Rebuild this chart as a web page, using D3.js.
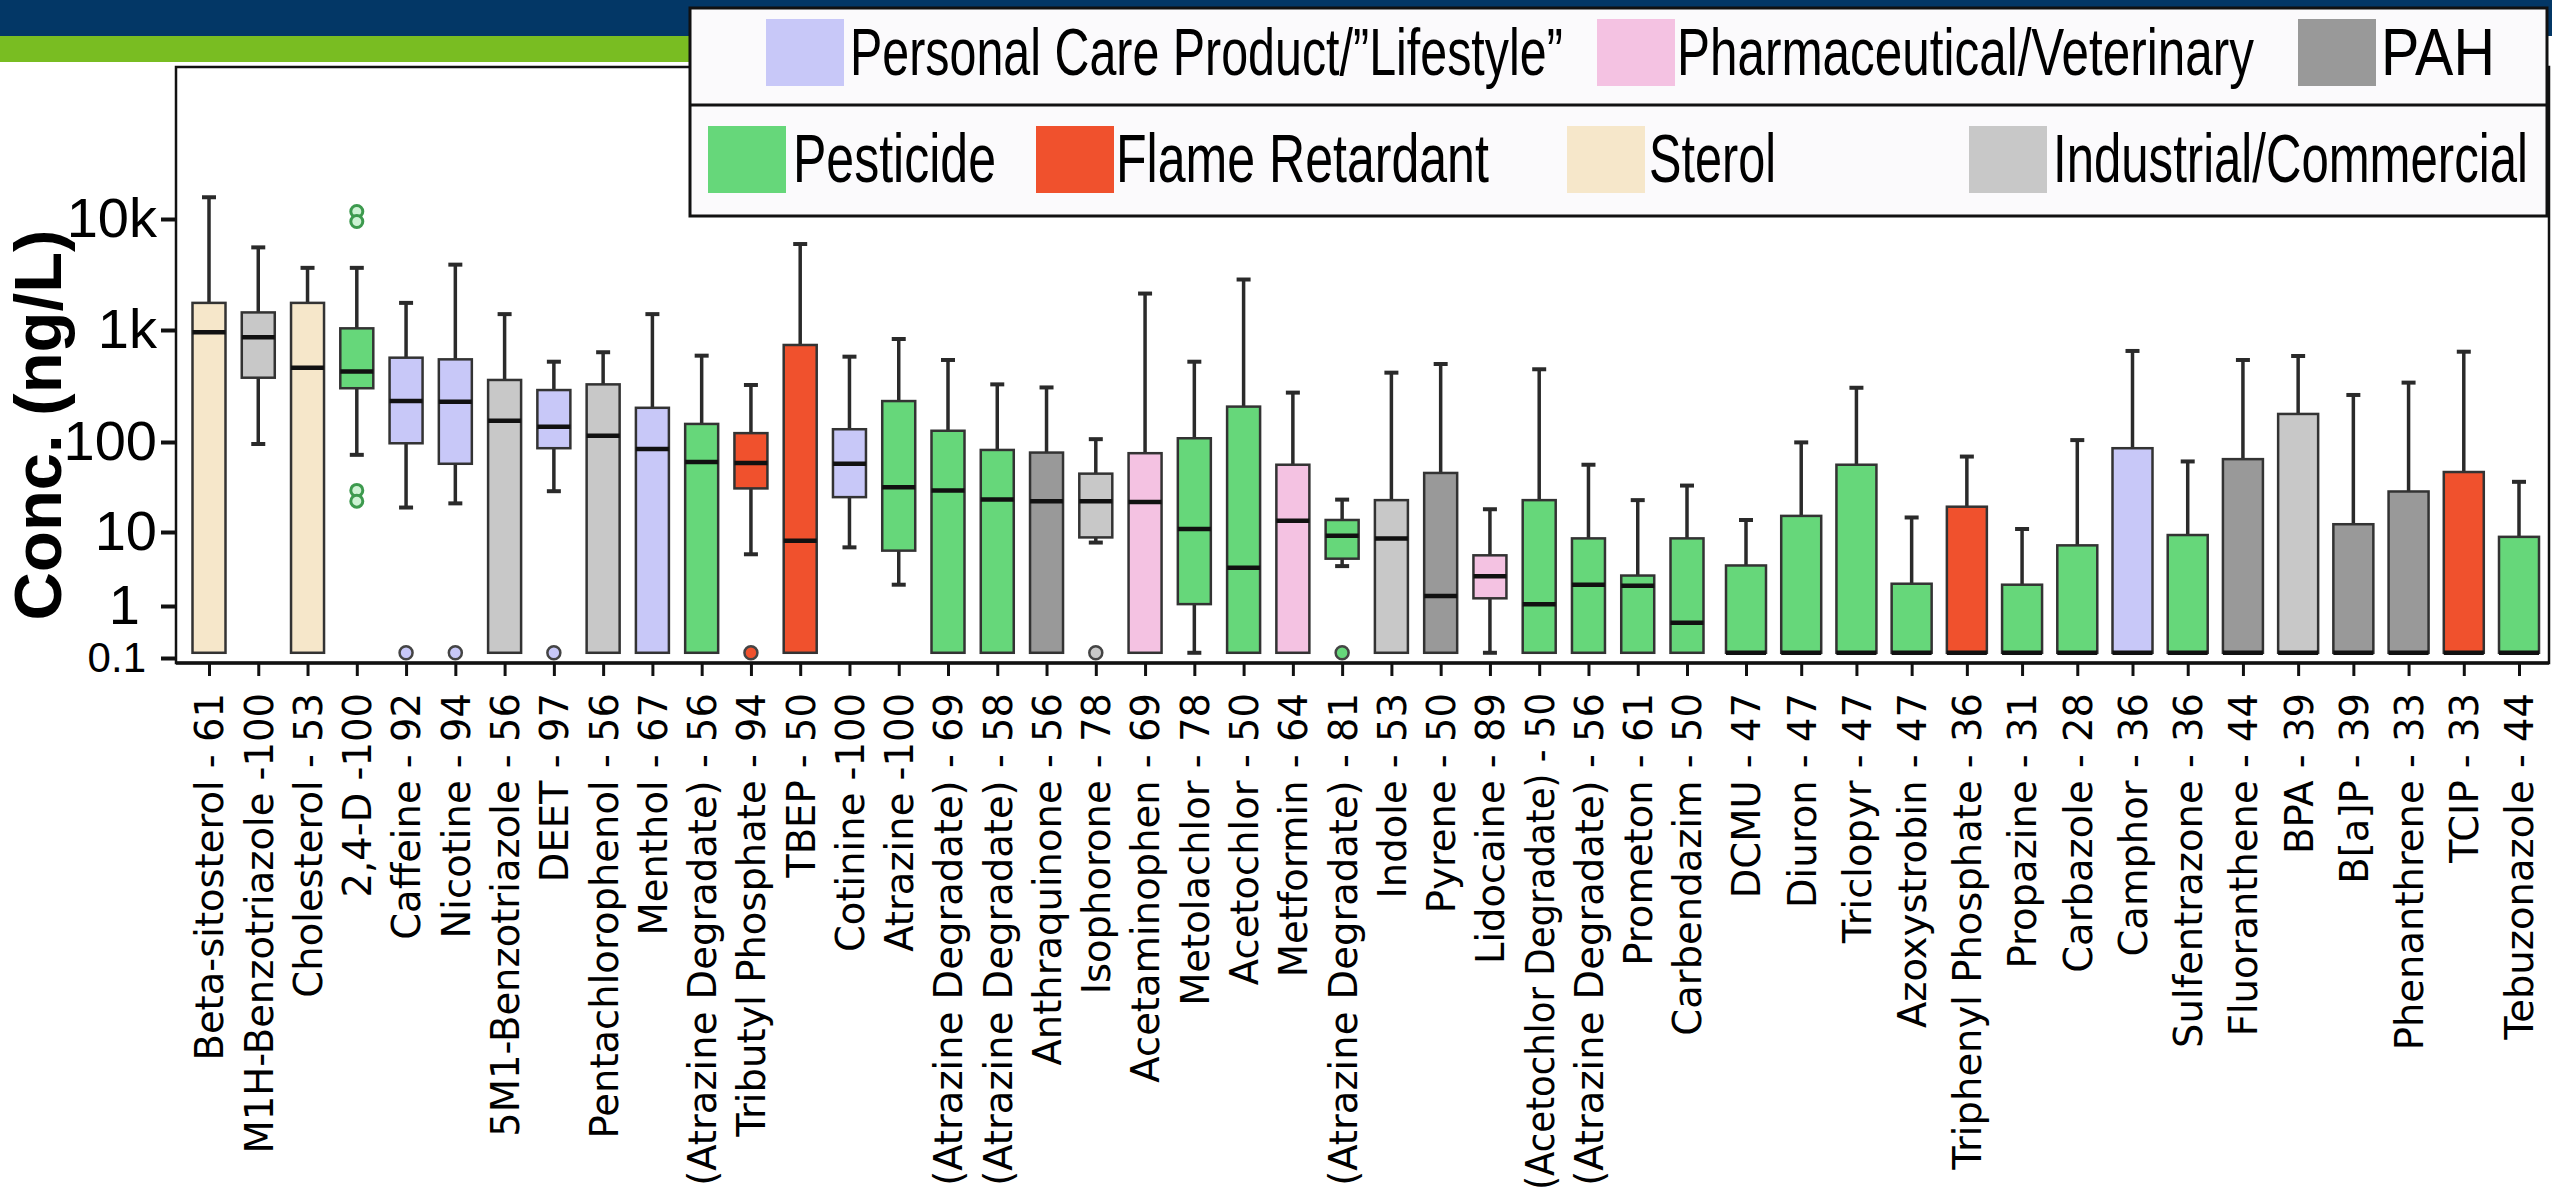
<!DOCTYPE html>
<html>
<head>
<meta charset="utf-8">
<script src="https://cdn.jsdelivr.net/npm/d3@7"></script>
<style>
  html, body { margin: 0; padding: 0; background: #fff; }
  svg { display: block; }
</style>
</head>
<body>
<svg id="chart" width="2552" height="1196"></svg>
<script>
// compounds in plot order, with % detection shown after the name
const compounds = ["Beta-sitosterol", "M1H-Benzotriazole", "Cholesterol", "2,4-D", "Caffeine", "Nicotine",
  "5M1-Benzotriazole", "DEET", "Pentachlorophenol", "Menthol", "(Atrazine Degradate)", "Tributyl Phosphate",
  "TBEP", "Cotinine", "Atrazine", "(Atrazine Degradate)", "(Atrazine Degradate)", "Anthraquinone",
  "Isophorone", "Acetaminophen", "Metolachlor", "Acetochlor", "Metformin", "(Atrazine Degradate)",
  "Indole", "Pyrene", "Lidocaine", "(Acetochlor Degradate)", "(Atrazine Degradate)", "Prometon",
  "Carbendazim", "DCMU", "Diuron", "Triclopyr", "Azoxystrobin", "Triphenyl Phosphate", "Propazine",
  "Carbazole", "Camphor", "Sulfentrazone", "Fluoranthene", "BPA", "B[a]P", "Phenanthrene", "TCIP",
  "Tebuzonazole"];
const detectPct = [61, 100, 53, 100, 92, 94, 56, 97, 56, 67, 56, 94, 50, 100, 100, 69, 58, 56, 78, 69,
  78, 50, 64, 81, 53, 50, 89, 50, 56, 61, 50, 47, 47, 47, 47, 36, 31, 28, 36, 36, 44, 39, 39, 33, 33, 44];

const groupNames = ["Personal Care Product/\u201dLifestyle\u201d", "Pharmaceutical/Veterinary", "PAH",
  "Pesticide", "Flame Retardant", "Sterol", "Industrial/Commercial"];
const groups = ["Sterol", "Industrial/Commercial", "Sterol", "Pesticide", "Personal Care Product/\u201dLifestyle\u201d",
  "Personal Care Product/\u201dLifestyle\u201d", "Industrial/Commercial", "Personal Care Product/\u201dLifestyle\u201d",
  "Industrial/Commercial", "Personal Care Product/\u201dLifestyle\u201d", "Pesticide", "Flame Retardant",
  "Flame Retardant", "Personal Care Product/\u201dLifestyle\u201d", "Pesticide", "Pesticide", "Pesticide", "PAH",
  "Industrial/Commercial", "Pharmaceutical/Veterinary", "Pesticide", "Pesticide", "Pharmaceutical/Veterinary",
  "Pesticide", "Industrial/Commercial", "PAH", "Pharmaceutical/Veterinary", "Pesticide", "Pesticide", "Pesticide",
  "Pesticide", "Pesticide", "Pesticide", "Pesticide", "Pesticide", "Flame Retardant", "Pesticide", "Pesticide",
  "Personal Care Product/\u201dLifestyle\u201d", "Pesticide", "PAH", "Industrial/Commercial", "PAH", "PAH",
  "Flame Retardant", "Pesticide"];

// box statistics in ng/L (0.126 = bottom of the plotted range / non-detect)
const whiskerHi = [15700, 5550, 3630, 3630, 1755, 3880, 1390, 521, 633, 1390, 590, 323, 5950, 578, 831, 540,
  327, 307, 106, 2130, 521, 2850, 276, 22.9, 416, 497, 17.9, 446, 55.9, 22.6, 32.8, 13.6, 99, 305, 14.5,
  68.9, 10.8, 104, 650, 60.8, 540, 586, 263, 339, 640, 36.1];
const q3 = [1755, 1440, 1755, 1035, 566, 547, 358, 291, 327, 202, 145, 120, 735, 130, 232, 126, 81.6, 76.3,
  44.5, 75.1, 108, 207, 55.9, 13.6, 22.6, 45.3, 4.84, 22.6, 8.2, 2.58, 8.2, 3.53, 15.1, 55.9, 2.0, 19.1,
  1.94, 6.6, 85.3, 9.1, 64.5, 178, 12.2, 28.2, 46.4, 8.6];
const median = [953, 861, 460, 425, 232, 229, 155, 137, 114, 83.8, 59.8, 58.3, 7.6, 57.3, 31.5, 29, 23, 22,
  22, 21.5, 10.8, 3.28, 13.3, 8.9, 8.2, 1.37, 2.52, 1.06, 1.94, 1.88, 0.478, 0.126, 0.126, 0.126, 0.126,
  0.126, 0.126, 0.126, 0.126, 0.126, 0.126, 0.126, 0.126, 0.126, 0.126, 0.126];
const q1 = [0.126, 375, 0.126, 302, 96.8, 57.3, 0.126, 85.3, 0.126, 0.126, 0.126, 30.5, 0.126, 24.4, 5.6,
  0.126, 0.126, 0.126, 8.45, 0.126, 1.06, 0.126, 0.126, 4.36, 0.126, 0.126, 1.27, 0.126, 0.126, 0.126,
  0.126, 0.126, 0.126, 0.126, 0.126, 0.126, 0.126, 0.126, 0.126, 0.126, 0.126, 0.126, 0.126, 0.126, 0.126, 0.126];
const whiskerLo = [null, 95, null, 72, 18.7, 20.8, null, 28.4, null, null, null, 5.0, null, 6.2, 1.94, null,
  null, null, 7.2, null, 0.126, null, null, 3.46, null, null, 0.126, null, null, null, null, null, null,
  null, null, null, null, null, null, null, null, null, null, null, null, null];
// [compound index, value]
const outliers = [[3, 11700], [3, 9500], [3, 29], [3, 22], [4, 0.126], [5, 0.126], [7, 0.126],
  [11, 0.126], [18, 0.126], [23, 0.126]];

const yTicks = [0.1, 1, 10, 100, 1000, 10000];
const yTickLabels = ["0.1", "1", "10", "100", "1k", "10k"];

// ---- layout ----
const W = 2552;
const plot = {left: 176, right: 2549, top: 67, bottom: 663};
const svg = d3.select("#chart");

// the x positions are not evenly spaced in the original (two panels stitched), so piecewise
const x = d3.scaleLinear().domain([0, 30, 31, 45]).range([209, 1687, 1746, 2519]);
// the tick labels sit at uneven spacing too, so the log scale is piecewise between ticks
const y = d3.scaleLog().domain(yTicks).range([658, 606, 532, 442, 330, 219]);
const color = d3.scaleOrdinal().domain(groupNames)
  .range(["#c8c8f8", "#f4c2e2", "#999999", "#66d77a", "#f0512d", "#f6e7ca", "#c8c8c8"]);
const boxW = i => (i > 30 ? 40 : 33);

// slide header bands
svg.append("rect").attr("x", 0).attr("y", 0).attr("width", W).attr("height", 36).attr("fill", "#033766");
svg.append("rect").attr("x", 0).attr("y", 36).attr("width", 690).attr("height", 26).attr("fill", "#79bd22");

// plot frame
svg.append("rect")
  .attr("x", plot.left).attr("y", plot.top)
  .attr("width", plot.right - plot.left).attr("height", plot.bottom - plot.top)
  .attr("fill", "#fff").attr("stroke", "#111").attr("stroke-width", 2.5);

const idx = d3.range(compounds.length);
const boxes = svg.append("g").selectAll("g").data(idx).join("g");

// upper whisker + cap
boxes.append("line")
  .attr("x1", i => x(i)).attr("x2", i => x(i))
  .attr("y1", i => y(whiskerHi[i])).attr("y2", i => y(q3[i]))
  .attr("stroke", "#2a2a2a").attr("stroke-width", 3.5);
boxes.append("line")
  .attr("x1", i => x(i) - 7).attr("x2", i => x(i) + 7)
  .attr("y1", i => y(whiskerHi[i])).attr("y2", i => y(whiskerHi[i]))
  .attr("stroke", "#2a2a2a").attr("stroke-width", 4);

// lower whisker + cap, only where there is one
const low = boxes.filter(i => whiskerLo[i] != null);
low.append("line")
  .attr("x1", i => x(i)).attr("x2", i => x(i))
  .attr("y1", i => y(q1[i])).attr("y2", i => y(whiskerLo[i]))
  .attr("stroke", "#2a2a2a").attr("stroke-width", 3.5);
low.append("line")
  .attr("x1", i => x(i) - 7).attr("x2", i => x(i) + 7)
  .attr("y1", i => y(whiskerLo[i])).attr("y2", i => y(whiskerLo[i]))
  .attr("stroke", "#2a2a2a").attr("stroke-width", 4);

// box
boxes.append("rect")
  .attr("x", i => x(i) - boxW(i) / 2)
  .attr("y", i => y(q3[i]))
  .attr("width", i => boxW(i))
  .attr("height", i => y(q1[i]) - y(q3[i]))
  .attr("fill", i => color(groups[i]))
  .attr("stroke", "#333").attr("stroke-width", 2.5);

// median
boxes.append("line")
  .attr("x1", i => x(i) - boxW(i) / 2).attr("x2", i => x(i) + boxW(i) / 2)
  .attr("y1", i => y(median[i])).attr("y2", i => y(median[i]))
  .attr("stroke", "#111").attr("stroke-width", 4.5);

// outliers
svg.append("g").selectAll("circle").data(outliers).join("circle")
  .attr("cx", d => x(d[0]))
  .attr("cy", d => y(d[1]))
  .attr("r", d => (d[1] > 1 ? 6 : 6.5))
  .attr("fill", d => (d[1] > 1 ? "#cdf2d3" : color(groups[d[0]])))
  .attr("stroke", d => (d[1] > 1 ? "#3d9a4e" : "#444"))
  .attr("stroke-width", d => (d[1] > 1 ? 3 : 2.5));

// x axis
const xAxis = d3.axisBottom(x)
  .tickValues(idx)
  .tickFormat(i => compounds[i] + " -" + (detectPct[i] < 100 ? " " : "") + detectPct[i])
  .tickSize(13).tickSizeOuter(0);
const gx = svg.append("g").attr("transform", `translate(0,${plot.bottom})`).call(xAxis);
gx.select(".domain").remove();
gx.selectAll(".tick line").attr("stroke", "#111").attr("stroke-width", 3);
gx.selectAll(".tick text")
  .attr("x", 0).attr("y", 0).attr("dy", "0.36em")
  .attr("text-anchor", "end")
  .attr("fill", "#000")
  .style("font-family", "'DejaVu Sans', sans-serif")
  .style("font-size", "38.5px")
  .each(function () {
    // the longest names are squeezed to stay on the slide, as in the original
    const len = this.getComputedTextLength();
    const s = Math.min(1, 497 / len);
    d3.select(this).attr("transform", `translate(0,30) rotate(-90) scale(${s},1)`);
  });
svg.append("line")
  .attr("x1", plot.left).attr("x2", plot.right)
  .attr("y1", plot.bottom).attr("y2", plot.bottom)
  .attr("stroke", "#111").attr("stroke-width", 3.5);

// y axis
const yAxis = d3.axisLeft(y)
  .tickValues(yTicks)
  .tickFormat((d, i) => yTickLabels[i])
  .tickSize(15).tickPadding(4);
const gy = svg.append("g").attr("transform", `translate(${plot.left},0)`).call(yAxis);
gy.select(".domain").remove();
gy.selectAll(".tick line").attr("stroke", "#111").attr("stroke-width", 4);
gy.selectAll(".tick text")
  .attr("x", d => (d === 1 ? -36 : d === 0.1 ? -30 : -19))
  .attr("fill", "#000")
  .style("font-family", "'Liberation Sans', Arial, sans-serif")
  .style("font-size", d => (d === 0.1 ? "42px" : "56px"));

svg.append("text")
  .attr("transform", "translate(61,425) rotate(-90)")
  .attr("text-anchor", "middle")
  .style("font-family", "'Liberation Sans', Arial, sans-serif")
  .style("font-weight", "bold")
  .style("font-size", "67px")
  .text("Conc. (ng/L)");

// legend box (two rows)
const lg = svg.append("g");
lg.append("rect").attr("x", 690).attr("y", 8).attr("width", 1857).attr("height", 208)
  .attr("fill", "#fbfafc").attr("stroke", "#111").attr("stroke-width", 3);
lg.append("line").attr("x1", 690).attr("x2", 2547).attr("y1", 105).attr("y2", 105)
  .attr("stroke", "#111").attr("stroke-width", 3);

const legendLayout = [
  {sx: 766, tx: 850, tw: 713, row: 0},
  {sx: 1597, tx: 1677, tw: 577, row: 0},
  {sx: 2298, tx: 2381, tw: 114, row: 0},
  {sx: 708, tx: 793, tw: 203, row: 1},
  {sx: 1036, tx: 1116, tw: 373, row: 1},
  {sx: 1567, tx: 1649, tw: 127, row: 1},
  {sx: 1969, tx: 2053, tw: 475, row: 1}
];
const rowY = [{sy: 19, base: 75, fs: 66}, {sy: 126, base: 182, fs: 69}];

const items = lg.selectAll("g.item").data(groupNames).join("g").attr("class", "item");
items.append("rect")
  .attr("x", (d, i) => legendLayout[i].sx)
  .attr("y", (d, i) => rowY[legendLayout[i].row].sy)
  .attr("width", 78).attr("height", 67)
  .attr("fill", d => color(d));
items.append("text")
  .attr("x", 0).attr("y", 0)
  .style("font-family", "'Liberation Sans Narrow', 'Arial Narrow', 'Liberation Sans', sans-serif")
  .style("font-size", (d, i) => rowY[legendLayout[i].row].fs + "px")
  .attr("fill", "#000")
  .text(d => d)
  .each(function (d, i) {
    // condensed lettering: squeeze each label to its width in the original
    const L = legendLayout[i];
    const s = L.tw / this.getComputedTextLength();
    d3.select(this).attr("transform", `translate(${L.tx},${rowY[L.row].base}) scale(${s},1)`);
  });
</script>
</body>
</html>
